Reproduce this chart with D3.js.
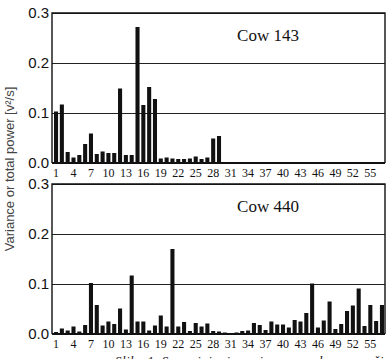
<!DOCTYPE html>
<html>

<head>
    <meta charset="utf-8">
    <style>
        body {
            margin: 0;
            background: white;
        }

        svg {
            display: block;
        }

        .y.axis text {
            font-family: "Liberation Sans", Arial, sans-serif;
            font-size: 15px;
            fill: #111;
        }

        .x.axis text {
            font-family: "Liberation Serif", "Times New Roman", serif;
            font-size: 12px;
            fill: #111;
        }

        .bar {
            fill: #111;
        }
    </style>
</head>

<body>
    <svg width="392" height="359"></svg>

<script src="https://d3js.org/d3.v7.min.js"></script>

<script>
    // chart data
    let categories = [1, 2, 3, 4, 5, 6, 7, 8, 9, 10, 11, 12, 13, 14, 15, 16, 17, 18, 19, 20,
        21, 22, 23, 24, 25, 26, 27, 28, 29, 30, 31, 32, 33, 34, 35, 36, 37, 38, 39, 40,
        41, 42, 43, 44, 45, 46, 47, 48, 49, 50, 51, 52, 53, 54, 55, 56, 57]
    let tickLabels = [1, 4, 7, 10, 13, 16, 19, 22, 25, 28, 31, 34, 37, 40, 43, 46, 49, 52, 55]
    let yTicks = [0, 0.1, 0.2, 0.3]

    // Cow 143 only has values up to 29
    let cow143 = [0.103, 0.117, 0.022, 0.011, 0.016, 0.038, 0.059, 0.018, 0.023, 0.020,
        0.020, 0.149, 0.016, 0.016, 0.272, 0.116, 0.152, 0.128, 0.009, 0.011,
        0.009, 0.008, 0.008, 0.009, 0.013, 0.008, 0.011, 0.049, 0.054]

    let cow440 = [0.004, 0.011, 0.007, 0.015, 0.005, 0.018, 0.102, 0.058, 0.017, 0.025,
        0.020, 0.051, 0.009, 0.117, 0.025, 0.025, 0.007, 0.017, 0.037, 0.015,
        0.170, 0.015, 0.024, 0.006, 0.022, 0.015, 0.021, 0.006, 0.005, 0.003,
        0.002, 0.003, 0.006, 0.007, 0.022, 0.018, 0.008, 0.025, 0.019, 0.019,
        0.013, 0.028, 0.025, 0.042, 0.101, 0.013, 0.027, 0.065, 0.010, 0.020,
        0.046, 0.057, 0.091, 0.016, 0.058, 0.026, 0.058]

    let svg = d3.select("svg")

    let left = 52
    let right = 385

    let x = d3.scaleBand()
        .domain(categories)
        .range([54, 384])
        .paddingInner(0.3)

    function drawPanel(top, bottom, values, title) {
        let y = d3.scaleLinear()
            .domain([0, 0.3])
            .range([bottom, top])

        let g = svg.append("g")

        // gridlines + tick labels
        g.append("g")
            .attr("class", "y axis")
            .attr("transform", `translate(${left},0)`)
            .call(d3.axisLeft(y)
                .tickValues(yTicks)
                .tickFormat(d3.format(".1f"))
                .tickSize(-(right - left))
                .tickPadding(3))
            .call(g => g.select(".domain").remove())
            .call(g => g.selectAll(".tick line")
                .attr("stroke", "#222")
                .attr("stroke-width", 1))

        g.append("g")
            .attr("class", "x axis")
            .attr("transform", `translate(0,${bottom})`)
            .call(d3.axisBottom(x)
                .tickValues(tickLabels)
                .tickSize(0)
                .tickPadding(5))
            .call(g => g.select(".domain").remove())

        g.append("g")
            .selectAll(".bar")
            .data(values)
            .join("rect")
            .attr("class", "bar")
            .attr("x", (d, i) => x(categories[i]))
            .attr("y", d => y(d))
            .attr("width", x.bandwidth())
            .attr("height", d => y(0) - y(d))

        // frame
        g.append("path")
            .attr("d", `M${left},${bottom}V${y(0.3)}H${right}V${bottom}`)
            .attr("fill", "none")
            .attr("stroke", "#111")
            .attr("stroke-width", 1.4)

        // thick base line
        g.append("line")
            .attr("x1", left)
            .attr("x2", right)
            .attr("y1", y(0))
            .attr("y2", y(0))
            .attr("stroke", "#111")
            .attr("stroke-width", 2.2)

        g.append("text")
            .attr("x", 268)
            .attr("y", top + 28)
            .attr("text-anchor", "middle")
            .style("font-family", "'Liberation Serif', 'Times New Roman', serif")
            .style("font-size", "17px")
            .style("fill", "#111")
            .text(title)
    }

    drawPanel(13, 163, cow143, "Cow 143")
    drawPanel(184, 334, cow440, "Cow 440")

    // y axis title
    svg.append("text")
        .attr("transform", "translate(14,169) rotate(-90)")
        .attr("text-anchor", "middle")
        .style("font-family", "'Liberation Sans', Arial, sans-serif")
        .style("font-size", "13px")
        .style("fill", "#444")
        .text("Variance or total power [v²/s]")

    // caption, cut off by the bottom edge as in the original
    svg.append("text")
        .attr("x", 115)
        .attr("y", 365)
        .style("font-family", "'Liberation Serif', 'Times New Roman', serif")
        .style("font-style", "italic")
        .style("font-size", "13px")
        .style("letter-spacing", "0.5px")
        .style("fill", "#222")
        .text("Slika 1. Spreminjanje variance oz. skupne moči")
</script>
</body>

</html>
